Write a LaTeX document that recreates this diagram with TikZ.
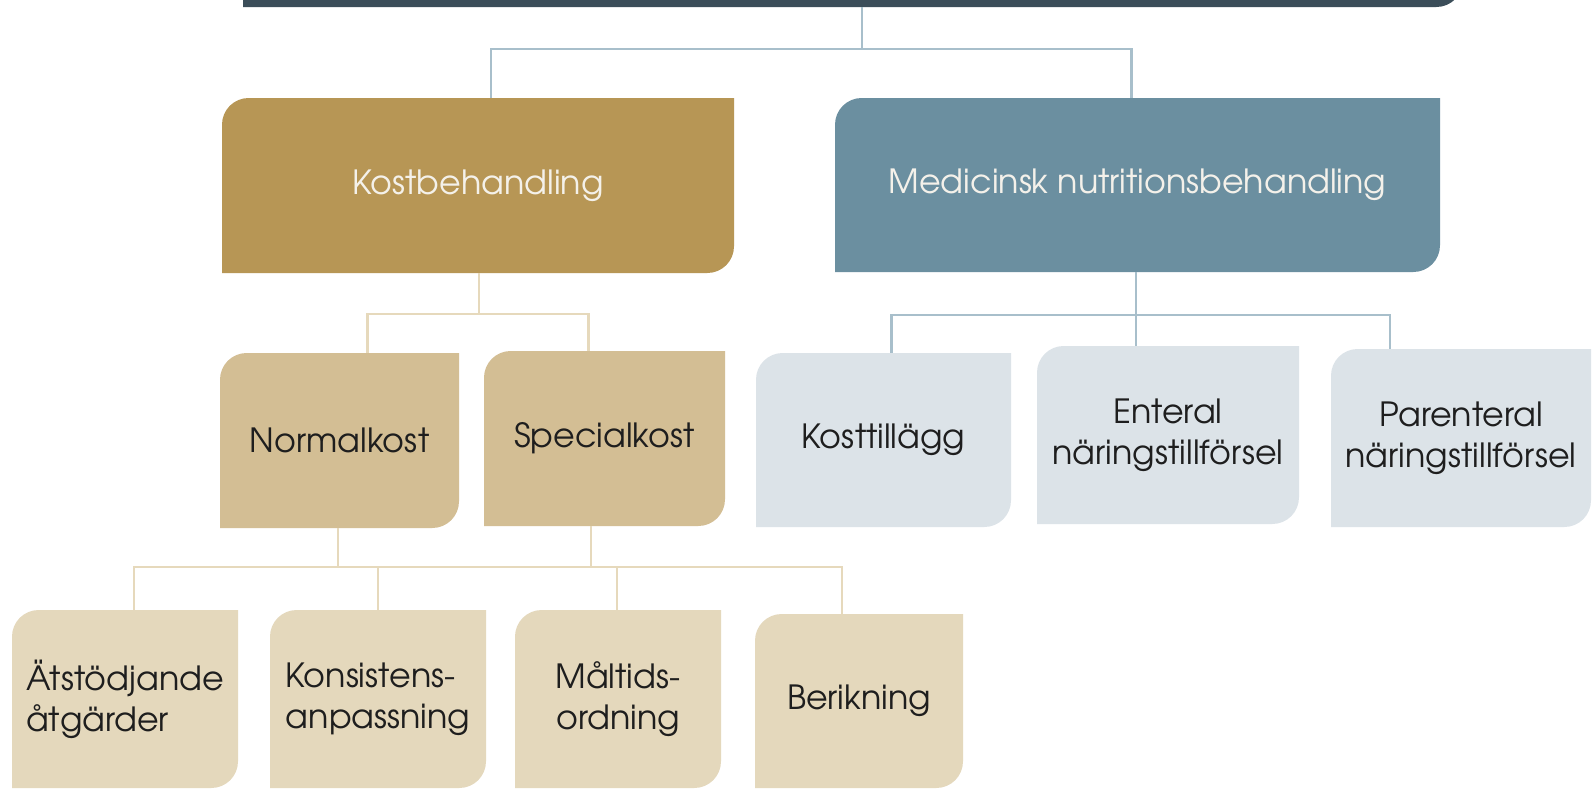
\documentclass[tikz,border=0pt]{standalone}
\usepackage{fontspec}
\setmainfont{texgyreadventor}[Extension=.otf,UprightFont=*-regular,BoldFont=*-bold]
\usetikzlibrary{calc}
\definecolor{darkbar}{HTML}{3B4D59}
\definecolor{gold}{HTML}{B79655}
\definecolor{tan}{HTML}{D3BE94}
\definecolor{lighttan}{HTML}{E4D8BC}
\definecolor{steel}{HTML}{6B8FA0}
\definecolor{pale}{HTML}{DCE3E8}
\definecolor{blueline}{HTML}{A8BFCB}
\definecolor{tanline}{HTML}{E6D9BC}
\definecolor{darktext}{HTML}{1E1E1E}
\definecolor{lighttext}{HTML}{F4F1EA}
\newcommand\cornerr{20pt}
\tikzset{
  leafshape/.style={inner sep=0pt, outer sep=0pt,
    path picture={\fill[#1] (path picture bounding box.south west)
      -- ([yshift=-\cornerr]path picture bounding box.north west)
      arc[start angle=180,end angle=90,radius=\cornerr]
      -- (path picture bounding box.north east)
      -- ([yshift=\cornerr]path picture bounding box.south east)
      arc[start angle=0,end angle=-90,radius=\cornerr] -- cycle;}},
  txt/.style={font=\fontsize{25}{30.75}\selectfont},
  topbox/.style={leafshape=darkbar},
  mainA/.style={leafshape=gold, txt, text=lighttext},
  mainB/.style={leafshape=steel, txt, text=lighttext},
  midbox/.style={leafshape=tan, txt, text=darktext},
  leafbox/.style={leafshape=lighttan, txt, text=darktext},
  medbox/.style={leafshape=pale, txt, text=darktext},
  bl/.style={draw=blueline, line width=2.2pt},
  tl/.style={draw=tanline, line width=2.2pt},
}
\newcommand\mkbox[7]{%
  \node[#1, minimum width={(#5-#3)*0.75pt}, minimum height={(#6-#4)*0.75pt}]
    (#2) at ({(#3+#5)/2},{(#4+#6)/2}) {#7};}
\begin{document}
\begin{tikzpicture}[x=0.75pt,y=-0.75pt]
\useasboundingbox (0,0) rectangle (1593,789);
\clip (0,0) rectangle (1593,789);
\fill[white] (0,0) rectangle (1593,789);
% connectors
\coordinate (j1) at (862,49);
\coordinate (j2) at (479,314);
\coordinate (j3) at (1136,315);
\coordinate (j4) at (338,567);
\coordinate (j5) at (591,567);
% boxes
\mkbox{topbox}{top}{243}{-40}{1463}{7}{}
\mkbox{mainA}{kost}{222}{98}{734}{273}{Kostbehandling}
\mkbox{mainB}{med}{835}{98}{1440}{272}{Medicinsk nutritionsbehandling}
\mkbox{midbox}{norm}{220}{353}{459}{528}{Normalkost}
\mkbox{midbox}{spec}{484}{351}{725}{526}{Specialkost}
\mkbox{leafbox, align=left}{at}{12}{610}{238}{788}{Ätstödjande\\åtgärder}
\mkbox{leafbox, align=left}{kons}{270}{610}{486}{788}{Konsistens-\\anpassning}
\mkbox{leafbox, align=center}{malt}{515}{610}{721}{788}{Måltids-\\ordning}
\mkbox{leafbox}{ber}{755}{614}{963}{788}{Berikning}
\mkbox{medbox}{kt}{756}{353}{1011}{527}{Kosttillägg}
\mkbox{medbox, align=center}{ent}{1037}{346}{1299}{524}{Enteral\\näringstillförsel}
\mkbox{medbox, align=center}{par}{1331}{349}{1591}{527}{Parenteral\\näringstillförsel}
% top level connectors
\draw[bl] (top.south -| j1) -- (j1);
\draw[bl] (j1) -| ($(kost.north)+(13,0)$);
\draw[bl] (j1) -| ($(med.north)+(-6,0)$);
% kost connectors
\draw[tl] (kost.south -| j2) -- (j2);
\draw[tl] (j2) -| ($(norm.north)+(28,0)$);
\draw[tl] (j2) -| ($(spec.north)+(-16,0)$);
% leaf connectors
\draw[tl] (norm.south -| j4) -- (j4);
\draw[tl] (spec.south -| j5) -- (j5);
\draw[tl] (j4) -- (j5);
\draw[tl] (j4) -| ($(at.north)+(9,0)$);
\draw[tl] (j4) -| ($(kons.north)+(0,0)$);
\draw[tl] (j5) -| ($(malt.north)+(-1,0)$);
\draw[tl] (j5) -| ($(ber.north)+(-17,0)$);
% medical connectors
\draw[bl] (med.south -| j3) -- (j3);
\draw[bl] (j3) -| ($(kt.north)+(8,0)$);
\draw[bl] (j3) -- (ent.north -| j3);
\draw[bl] (j3) -| ($(par.north)+(-71,0)$);
\end{tikzpicture}
\end{document}
